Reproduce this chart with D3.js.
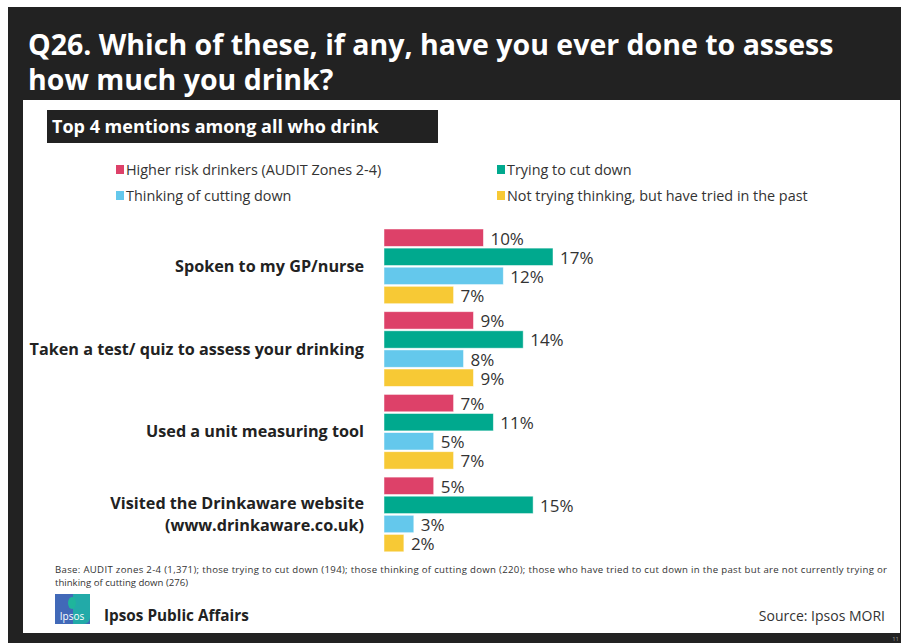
<!DOCTYPE html>
<html><head><meta charset="utf-8">
<script src="https://cdn.jsdelivr.net/npm/d3@7"></script>
<style>html,body{margin:0;padding:0;background:#fff;overflow:hidden}svg{display:block}</style>
</head><body>
<svg id="chart" width="901" height="643"></svg>
<script>
const titleLines = ["Q26. Which of these, if any, have you ever done to assess", "how much you drink?"];
const subtitle = "Top 4 mentions among all who drink";
const categories = [
  ["Spoken to my GP/nurse"],
  ["Taken a test/ quiz to assess your drinking"],
  ["Used a unit measuring tool"],
  ["Visited the Drinkaware website", "(www.drinkaware.co.uk)"]
];
const seriesNames = ["Higher risk drinkers (AUDIT Zones 2-4)", "Trying to cut down", "Thinking of cutting down", "Not trying thinking, but have tried in the past"];
const seriesColors = ["#dd4169", "#00a98e", "#64c8ec", "#f7c935"];
const higherRisk = [10, 9, 7, 5];
const tryingCut = [17, 14, 11, 15];
const thinkingCut = [12, 8, 5, 3];
const triedPast = [7, 9, 7, 2];
const footnote = ["Base:  AUDIT zones 2-4 (1,371); those trying to cut down (194); those thinking of cutting down (220); those who have tried to cut down in the past but are not currently trying or", "thinking of cutting down  (276)"];

const series = [higherRisk, tryingCut, thinkingCut, triedPast];
const FONT = "'Open Sans', 'Noto Sans', sans-serif";
const svg = d3.select("#chart");

// frame
svg.append("rect").attr("x", 8).attr("y", 7).attr("width", 893).attr("height", 636).attr("fill", "#222222");
svg.append("rect").attr("x", 23).attr("y", 100).attr("width", 877).attr("height", 533).attr("fill", "#ffffff");

// title
svg.append("g").selectAll("text").data(titleLines).join("text")
  .attr("x", 28).attr("y", (d, i) => 55 + i * 35)
  .attr("fill", "#fff").attr("font-family", FONT).attr("font-weight", 700).attr("font-size", 28.5)
  .text(d => d);

// subtitle box
svg.append("rect").attr("x", 47).attr("y", 110).attr("width", 391).attr("height", 33).attr("fill", "#222222");
svg.append("text").attr("x", 52).attr("y", 133).attr("fill", "#fff").attr("font-family", FONT)
  .attr("font-weight", 700).attr("font-size", 18).text(subtitle);

// legend
const legPos = [[116, 170], [497, 170], [116, 196], [497, 196]];
const leg = svg.append("g").selectAll("g").data(seriesNames).join("g")
  .attr("transform", (d, i) => `translate(${legPos[i][0]},${legPos[i][1]})`);
leg.append("rect").attr("x", 0).attr("y", -5).attr("width", 8).attr("height", 9)
  .attr("fill", (d, i) => seriesColors[i]);
leg.append("text").attr("x", 10).attr("y", 0).attr("dy", "0.35em").attr("fill", "#333")
  .attr("font-family", FONT).attr("font-size", 14.4).text(d => d);

// scales
const y0 = d3.scaleBand().domain(d3.range(categories.length)).range([229, 229 + 82.7 * 4]).paddingInner(0).paddingOuter(0);
const y1 = d3.scaleBand().domain(d3.range(series.length)).range([0, 74.7]).paddingInner(0.09).paddingOuter(0);
const x = d3.scaleLinear().domain([0, 17]).range([384, 553]);

const groups = svg.append("g").selectAll("g").data(categories).join("g")
  .attr("transform", (d, i) => `translate(0,${y0(i)})`);

groups.selectAll("rect").data((d, i) => series.map((s, k) => ({k, v: s[i]}))).join("rect")
  .attr("x", x(0)).attr("y", d => y1(d.k)).attr("width", d => x(d.v) - x(0)).attr("height", y1.bandwidth())
  .attr("fill", d => seriesColors[d.k]).attr("stroke", "#fff").attr("stroke-opacity", 0.6).attr("stroke-width", 0.8);

groups.selectAll("text.val").data((d, i) => series.map((s, k) => ({k, v: s[i]}))).join("text")
  .attr("class", "val")
  .attr("x", d => x(d.v) + 7).attr("y", d => y1(d.k) + y1.bandwidth() / 2 + 1).attr("dy", "0.35em")
  .attr("fill", "#333").attr("font-family", FONT).attr("font-size", 17).text(d => d.v + "%");

// category labels
groups.append("text").attr("text-anchor", "end").attr("fill", "#222").attr("font-family", FONT)
  .attr("font-weight", 700).attr("font-size", 16.2)
  .each(function(d) {
    const t = d3.select(this);
    const n = d.length;
    d.forEach((line, j) => {
      t.append("tspan").attr("x", 364).attr("y", 74.7 / 2 + (j - (n - 1) / 2) * 22).attr("dy", "0.35em").text(line);
    });
  });

// footnote
svg.append("g").selectAll("text").data(footnote).join("text")
  .attr("x", 55).attr("y", (d, i) => 573 + i * 13).attr("fill", "#333").attr("font-family", FONT)
  .attr("font-size", 9.6).attr("textLength", (d, i) => i === 0 ? 832 : null)
  .text(d => d);

// logo
const logo = svg.append("g").attr("transform", "translate(55,594)");
logo.append("rect").attr("width", 35).attr("height", 30).attr("fill", "#4169b8");
logo.append("path").attr("d", "M18,0 L35,0 L35,24 Q34,30 28,30 L18,30 Z").attr("fill", "#22aaa8");
logo.append("ellipse").attr("cx", 17).attr("cy", 9).attr("rx", 4).attr("ry", 6).attr("fill", "#1fb59c");
logo.append("text").attr("x", 17).attr("y", 26).attr("text-anchor", "middle").attr("fill", "#fff")
  .attr("font-family", FONT).attr("font-size", 10).text("Ipsos");

svg.append("text").attr("x", 104).attr("y", 621).attr("fill", "#222").attr("font-family", FONT)
  .attr("font-weight", 700).attr("font-size", 15.3).text("Ipsos Public Affairs");
svg.append("text").attr("x", 885).attr("y", 621).attr("text-anchor", "end").attr("fill", "#333")
  .attr("font-family", FONT).attr("font-size", 14).text("Source: Ipsos MORI");
svg.append("text").attr("x", 899).attr("y", 641).attr("text-anchor", "end").attr("fill", "#999")
  .attr("font-family", FONT).attr("font-size", 6).text("11");
</script>
</body></html>
